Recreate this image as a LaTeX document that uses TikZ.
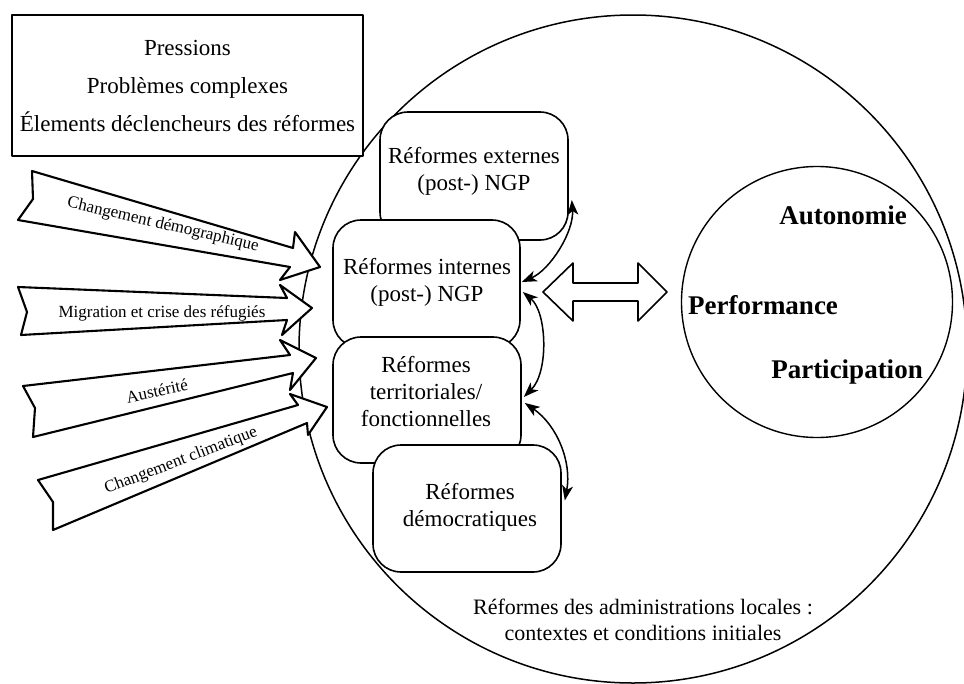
\documentclass[tikz,border=0pt]{standalone}
\usepackage{fontspec}
\setmainfont{Liberation Serif}
\usetikzlibrary{arrows.meta,calc}
\begin{document}
\begin{tikzpicture}[x=1pt,y=-1pt,
  line join=round,
  boxtext/.style={font=\fontsize{23}{27}\selectfont, align=center, inner sep=0pt},
  rbox/.style={draw, line width=1.6pt, fill=white, rounded corners=28pt, inner sep=0pt},
  bigarrow/.style={draw, line width=2.1pt, fill=white},
  arrowtext/.style={font=\fontsize{17}{20}\selectfont, inner sep=0pt},
  boldtext/.style={font=\fontsize{27}{30}\selectfont\bfseries, inner sep=0pt},
  bidir/.style={{Stealth[length=15pt,width=11pt,inset=4pt]}-{Stealth[length=15pt,width=11pt,inset=4pt]}, line width=1.5pt}
]
\useasboundingbox (0,0) rectangle (964,683);
\clip (0,0) rectangle (964,683);

% large outer circle
\node[draw, circle, line width=1.5pt, minimum size=668pt, inner sep=0pt] (outer) at (633,349) {};

% top-left box
\node[draw, line width=1.5pt, fill=white, minimum width=351pt, minimum height=141pt,
      align=center, inner sep=0pt, font=\fontsize{23}{38}\selectfont] (press) at (187.5,85.5)
  {Pressions\\Problèmes complexes\\Élements déclencheurs des réformes};

% inner circle
\node[draw, circle, line width=1.4pt, minimum size=271pt, inner sep=0pt] (inner) at (817,302) {};
\node[boldtext] (auto) at (843,215) {Autonomie};
\node[boldtext] (perf) at (763,305) {Performance};
\node[boldtext] (part) at (847,372) {Participation};

% reform boxes
\node[rbox, minimum width=188pt, minimum height=128pt] (b1) at (474,176) {};
\node[boxtext] (t1) at (474,171.5) {Réformes externes\\(post-) NGP};
\node[rbox, minimum width=187pt, minimum height=128pt] (b2) at (426.5,284) {};
\node[boxtext] (t2) at (427,282.5) {Réformes internes\\(post-) NGP};
\node[rbox, minimum width=188pt, minimum height=126pt] (b3) at (427,400) {};
\node[boxtext] (t3) at (426,392) {Réformes\\territoriales/\\fonctionnelles};
\node[rbox, minimum width=188pt, minimum height=127pt] (b4) at (467,508.5) {};
\node[boxtext] (t4) at (470,507.5) {Réformes\\démocratiques};

% curved two-headed connectors
\draw[bidir] ($(b2.east)+(1,-2)$) .. controls (550,270) and (574,232) .. ($(b1.east)+(3,24)$);
\draw[bidir] ($(b2.east)+(2,8)$) .. controls (547,312) and (549,372) .. ($(b3.east)+(2,-3)$);
\draw[bidir] ($(b3.east)+(3,3)$) .. controls (557,425) and (572,462) .. ($(b4.east)+(3,-8)$);

% hollow double arrow
\draw[bigarrow, line width=1.6pt] (543,292) -- (573,263) -- (573,283) -- (638,283) -- (638,263)
  -- (667,292) -- (638,321) -- (638,301) -- (573,301) -- (573,321) -- cycle;

% left input arrows
\draw[bigarrow] (32,171) -- (293,248) -- (295,232) -- (320,267) -- (280,280) -- (290,267)
  -- (18,220) -- (33,199) -- cycle;
\draw[bigarrow] (18,287) -- (287,298) -- (280,285) -- (312,308) -- (282,335) -- (287,320)
  -- (21,335) -- (27,312) -- cycle;
\draw[bigarrow] (23,386) -- (290,355) -- (280,340) -- (316,358) -- (290,390) -- (293,373)
  -- (33,437) -- (35,408) -- cycle;
\draw[bigarrow] (38,480) -- (298,405) -- (290,394) -- (327,407) -- (308,435) -- (307,423)
  -- (53,530) -- (53,502) -- cycle;

\node[arrowtext, rotate=-13] (l1) at (163,225) {Changement démographique};
\node[arrowtext] (l2) at (162,313) {Migration et crise des réfugiés};
\node[arrowtext, rotate=12] (l3) at (157,391) {Austérité};
\node[arrowtext, rotate=21] (l4) at (181,461) {Changement climatique};

% bottom caption
\node[font=\fontsize{22}{26}\selectfont, align=center, inner sep=0pt] (ctx) at (643,620)
  {Réformes des administrations locales :\\contextes et conditions initiales};
\end{tikzpicture}
\end{document}
